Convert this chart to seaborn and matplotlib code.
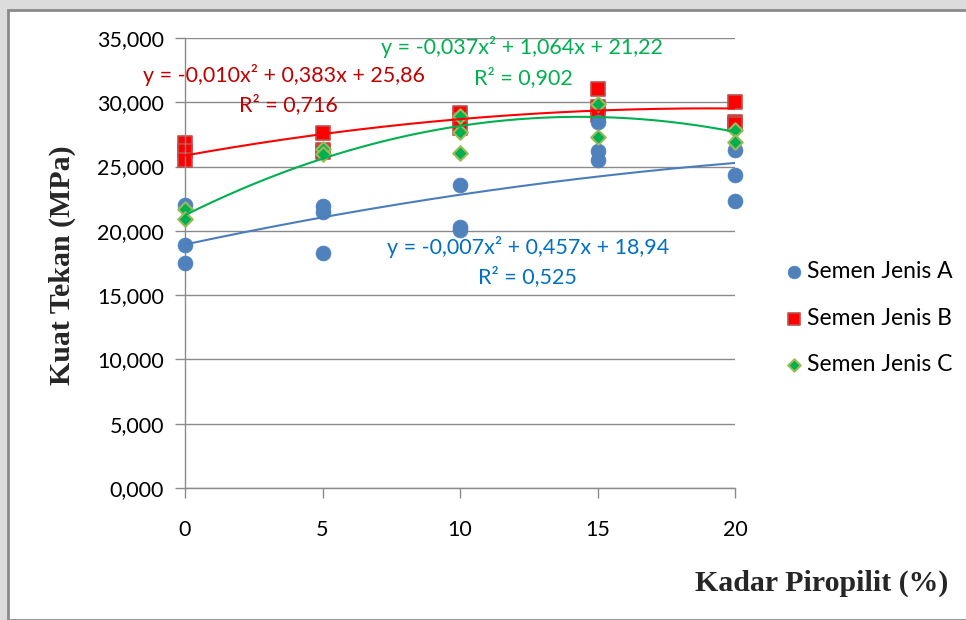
import numpy as np
import pandas as pd
import matplotlib
matplotlib.use("Agg")
import matplotlib.pyplot as plt
import seaborn as sns
from matplotlib.patches import Rectangle
from matplotlib.ticker import FuncFormatter, MultipleLocator

# ---------------- data ----------------
kadar_A = [0, 0, 0, 5, 5, 5, 10, 10, 10, 15, 15, 15, 20, 20, 20]
kuat_A = [22.0, 18.9, 17.5, 21.9, 21.5, 18.3, 23.6, 20.3, 20.1, 28.5, 26.2, 25.5, 26.3, 24.35, 22.3]

kadar_B = [0, 0, 0, 5, 5, 5, 10, 10, 10, 15, 15, 15, 20, 20, 20]
kuat_B = [26.8, 26.2, 25.5, 27.6, 26.3, 26.1, 29.2, 28.6, 28.0, 31.0, 29.6, 29.0, 30.0, 28.5, 28.3]

kadar_C = [0, 0, 5, 5, 10, 10, 10, 15, 15, 20, 20]
kuat_C = [21.7, 20.9, 26.4, 26.0, 28.9, 27.7, 26.05, 29.9, 27.3, 27.85, 26.9]

# polynomial trend-line coefficients (a, b, c) as shown on chart
coef_A = [-0.007, 0.457, 18.94]
coef_B = [-0.010, 0.383, 25.86]
coef_C = [-0.037, 1.064, 21.22]

eq_A = ["y = -0,007x² + 0,457x + 18,94", "R² = 0,525"]
eq_B = ["y = -0,010x² + 0,383x + 25,86", "R² = 0,716"]
eq_C = ["y = -0,037x² + 1,064x + 21,22", "R² = 0,902"]

series_names = ["Semen Jenis A", "Semen Jenis B", "Semen Jenis C"]
x_ticks = [0, 5, 10, 15, 20]

# ---------------- style ----------------
sns.set_theme(style="white")
plt.rcParams["font.family"] = ["Lato", "DejaVu Sans"]

fig = plt.figure(figsize=(9.66, 6.2), dpi=100)
fig.patch.set_facecolor("#dcdcdc")
fig.patches.append(Rectangle((8 / 966, 0), 1.0, 1 - 10 / 620, transform=fig.transFigure,
                             facecolor="white", edgecolor="#8a8a8a", lw=2, zorder=-10))

ax = fig.add_axes([185 / 966, 1 - 488 / 620, 550 / 966, 450 / 620])
ax.set_facecolor("none")

df = pd.concat([
    pd.DataFrame({"kadar": kadar_A, "kuat": kuat_A, "jenis": series_names[0]}),
    pd.DataFrame({"kadar": kadar_B, "kuat": kuat_B, "jenis": series_names[1]}),
    pd.DataFrame({"kadar": kadar_C, "kuat": kuat_C, "jenis": series_names[2]}),
])

styles = {
    series_names[0]: dict(marker="o", color="#4F81BD", edgecolor="#4F81BD", s=115, linewidth=0.5),
    series_names[1]: dict(marker="s", color="#FF0000", edgecolor="#C0504D", s=100, linewidth=1.2),
    series_names[2]: dict(marker="D", color="#00B050", edgecolor="#9BBB59", s=55, linewidth=1.5),
}
zord = {series_names[0]: 3, series_names[1]: 2, series_names[2]: 4}
for name in series_names:
    sub = df[df["jenis"] == name]
    sns.scatterplot(data=sub, x="kadar", y="kuat", ax=ax, label=name, clip_on=False,
                    zorder=zord[name], **styles[name])

# trend lines
xs = np.linspace(0, 20, 200)
line_cols = ["#4A7EBB", "#FF0000", "#00B050"]
for coef, col in zip([coef_A, coef_B, coef_C], line_cols):
    ax.plot(xs, np.polyval(coef, xs), color=col, lw=1.5, zorder=5)

# equations
txt_kw = dict(ha="center", va="center", fontsize=15.5, clip_on=False, zorder=6)
ax.text(3.6, 32.12, eq_B[0], color="#C00000", **txt_kw)
ax.text(3.75, 29.79, eq_B[1], color="#C00000", **txt_kw)
ax.text(12.25, 34.3, eq_C[0], color="#00B050", **txt_kw)
ax.text(12.3, 31.9, eq_C[1], color="#00B050", **txt_kw)
ax.text(12.47, 18.74, eq_A[0], color="#0070C0", **txt_kw)
ax.text(12.44, 16.41, eq_A[1], color="#0070C0", **txt_kw)

# axes
ax.set_xlim(0, 20)
ax.set_ylim(0, 35)
ax.set_xticks(x_ticks)
ax.yaxis.set_major_locator(MultipleLocator(5))
ax.yaxis.set_major_formatter(FuncFormatter(lambda v, p: f"{v:.3f}".replace(".", ",")))
ax.grid(axis="y", color="#8a8a8a", lw=1)
ax.set_axisbelow(True)
for s in ["top", "right"]:
    ax.spines[s].set_visible(False)
for s in ["left", "bottom"]:
    ax.spines[s].set_color("#8a8a8a")
    ax.spines[s].set_linewidth(1)
ax.tick_params(axis="both", which="major", direction="out", length=7, width=1,
               color="#8a8a8a", labelsize=15.5, labelcolor="black", left=True, bottom=True)
ax.tick_params(axis="y", pad=8)
ax.tick_params(axis="x", pad=16)
ax.set_xlabel("")
ax.set_ylabel("")

fig.text(62 / 966, 1 - 265 / 620, "Kuat Tekan (MPa)", rotation=90, ha="center", va="center",
         fontsize=21.5, fontweight="bold", family=["Liberation Serif"])
fig.text(822 / 966, 1 - 583 / 620, "Kadar Piropilit (%)", ha="center", va="center",
         fontsize=21.5, fontweight="bold", family=["Liberation Serif"])

leg = ax.legend(loc="upper left", bbox_to_anchor=(1.068, 0.525), frameon=False, fontsize=16.5,
                handletextpad=0.0, labelspacing=1.12, markerscale=0.85, borderaxespad=0,
                handlelength=1.1)
for t in leg.get_texts():
    t.set_color("black")

fig.savefig("out.png", dpi=100, facecolor=fig.get_facecolor())
